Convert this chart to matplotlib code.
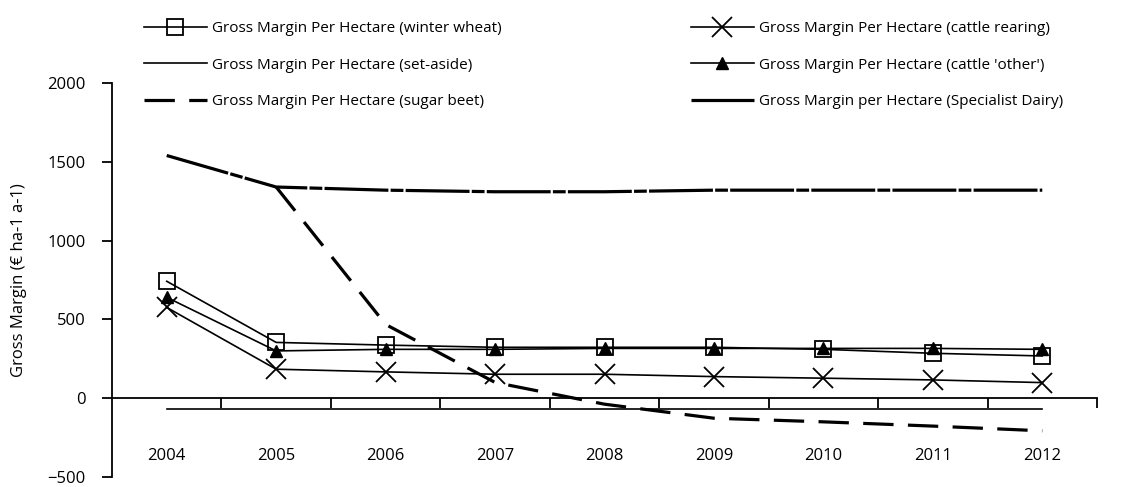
import matplotlib
matplotlib.use("Agg")
import matplotlib.pyplot as plt
import numpy as np

plt.rcParams['font.family'] = ['Open Sans', 'DejaVu Sans']

years = ['2004', '2005', '2006', '2007', '2008', '2009', '2010', '2011', '2012']
winter_wheat = [742, 354, 337, 323, 323, 323, 310, 285, 268]
set_aside = [-70, -70, -70, -70, -70, -70, -70, -70, -70]
sugar_beet = [np.nan, 1340, 468, 100, -38, -127, -150, -177, -207]
cattle_rearing = [576, 184, 167, 152, 152, 137, 127, 116, 99]
cattle_other = [640, 300, 310, 310, 316, 316, 316, 316, 310]
specialist_dairy = [1540, 1340, 1320, 1310, 1310, 1320, 1320, 1320, 1320]

labels = ["Gross Margin Per Hectare (winter wheat)",
          "Gross Margin Per Hectare (set-aside)",
          "Gross Margin Per Hectare (sugar beet)",
          "Gross Margin Per Hectare (cattle rearing)",
          "Gross Margin Per Hectare (cattle 'other')",
          "Gross Margin per Hectare (Specialist Dairy)"]

W, H = 1132, 487
fig = plt.figure(figsize=(W / 100, H / 100), dpi=100)
ax = fig.add_axes([112 / W, 1 - 477 / H, (1097 - 112) / W, (477 - 83) / H])

x = np.arange(len(years))
lw = 1.2
h1, = ax.plot(x, winter_wheat, color='black', lw=lw, marker='s', ms=11,
              mfc='none', mec='black', mew=1.3, label=labels[0])
h2, = ax.plot(x, set_aside, color='black', lw=lw, label=labels[1])
h3, = ax.plot(x, sugar_beet, color='black', lw=2.3, dashes=(9.5, 4.5), label=labels[2])
h4, = ax.plot(x, cattle_rearing, color='black', lw=lw, marker='x', ms=14,
              mew=1.3, label=labels[3])
h5, = ax.plot(x, cattle_other, color='black', lw=lw, marker='^', ms=8,
              mfc='black', mec='black', label=labels[4])
h6, = ax.plot(x, specialist_dairy, color='black', lw=2.3, dashes=(20, 0.7, 4, 0.7),
              label=labels[5])

ax.set_xlim(-0.5, 8.5)
ax.set_ylim(-500, 2000)
ax.set_yticks([-500, 0, 500, 1000, 1500, 2000])
ax.tick_params(axis='y', direction='out', length=7.2, width=1.3, pad=12, labelsize=12)

ax.spines['top'].set_visible(False)
ax.spines['right'].set_visible(False)
ax.spines['left'].set_linewidth(1.3)
ax.spines['bottom'].set_position(('data', 0))
ax.spines['bottom'].set_linewidth(1.3)

ax.set_xticks(np.arange(0.5, 9.0, 1.0))
ax.set_xticklabels([])
ax.tick_params(axis='x', which='major', direction='out', length=7.2, width=1.3)
ax.set_xticks(x, minor=True)
ax.set_xticklabels(years, minor=True)
ax.tick_params(axis='x', which='minor', length=0, pad=36, labelsize=12)

ax.set_ylabel("Gross Margin (€ ha-1 a-1)", fontsize=12)
ax.yaxis.set_label_coords(-(112 - 27) / (1097 - 112), 0.5)

leg_kw = dict(frameon=False, loc='upper left', borderpad=0, borderaxespad=0,
              handlelength=4.1, handletextpad=0.35, labelspacing=1.42,
              fontsize=11, numpoints=1)
fig.legend([h1, h2, h3], labels[:3], bbox_to_anchor=(144 / W, 1 - 21 / H), **leg_kw)
fig.legend([h4, h5, h6], labels[3:], bbox_to_anchor=(691 / W, 1 - 21 / H), **leg_kw)

fig.savefig("out.png", dpi=100)
